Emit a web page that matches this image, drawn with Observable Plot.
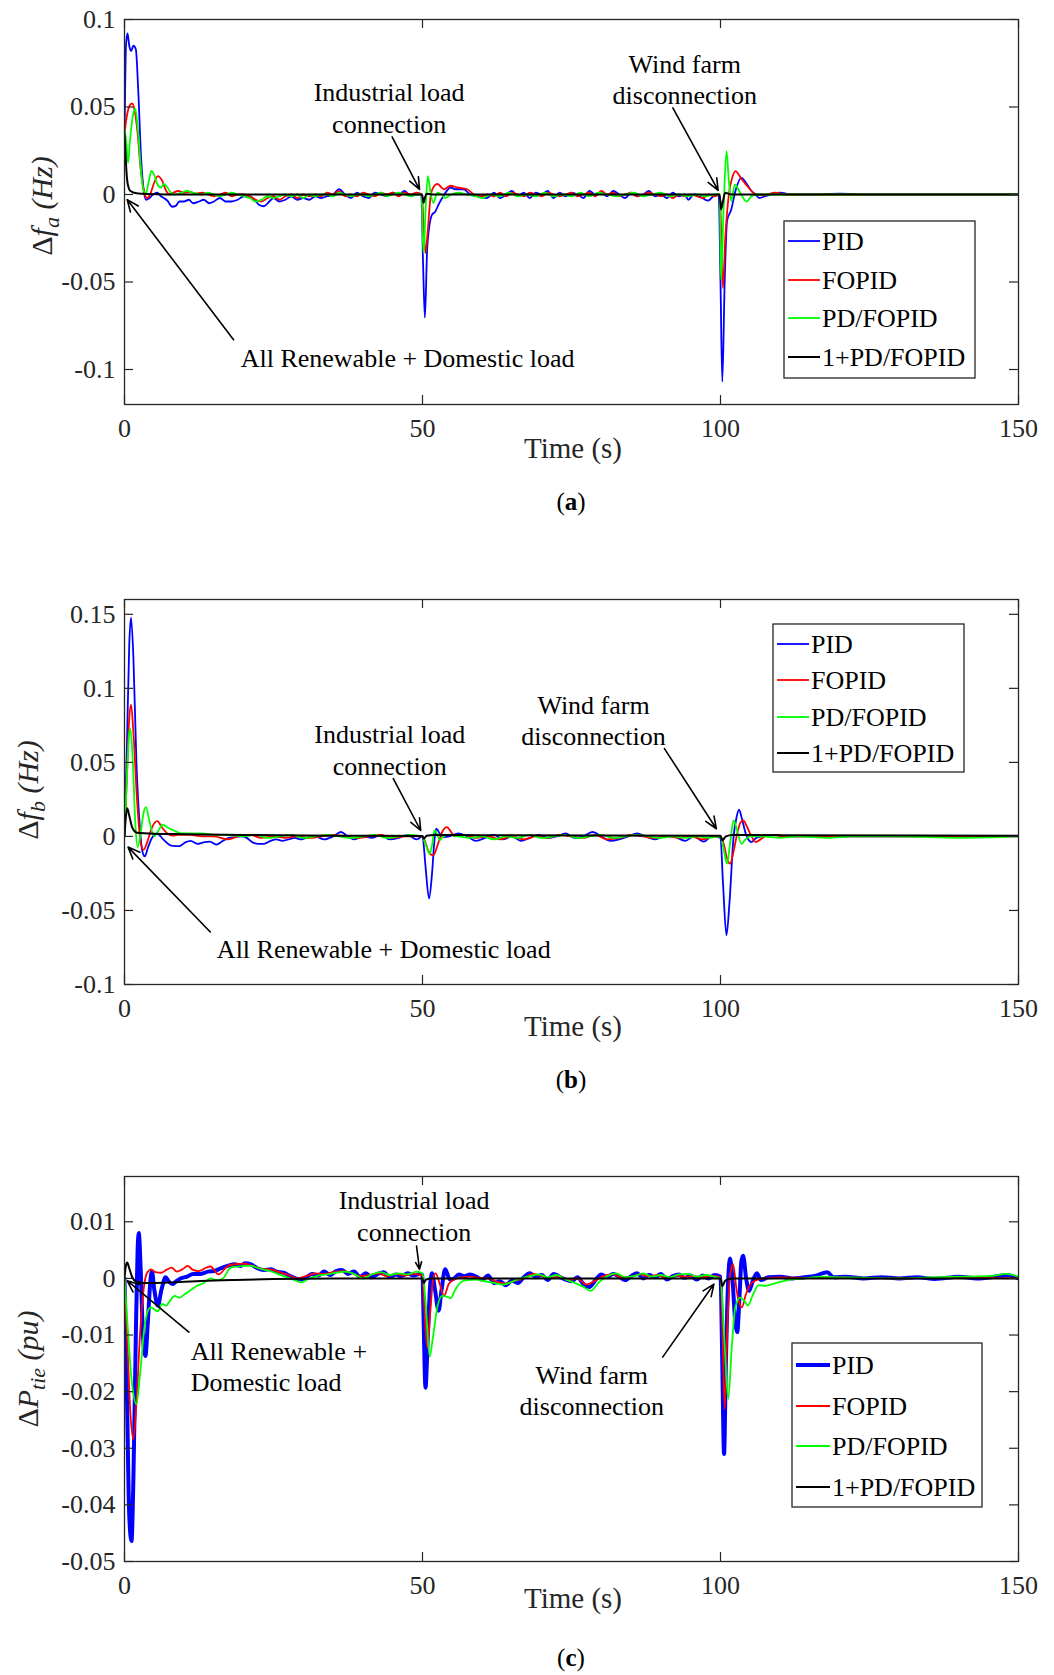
<!DOCTYPE html>
<html><head><meta charset="utf-8">
<script src="https://cdn.jsdelivr.net/npm/d3@7"></script>
<script src="https://cdn.jsdelivr.net/npm/@observablehq/plot@0.6"></script>
<style>
html,body{margin:0;padding:0;background:#fff;}
#root{position:relative;width:1054px;height:1675px;background:#fff;font-family:"Liberation Serif","Times New Roman",serif;overflow:hidden;}
.panel{position:absolute;left:0;}
.cap{position:absolute;left:0;width:1142px;text-align:center;font-size:25px;line-height:28px;color:#000;font-family:"Liberation Serif",serif;}
</style></head>
<body><div id="root"></div>
<script>
// ---------- shared categories ----------
const seriesNames = ["PID", "FOPID", "PD/FOPID", "1+PD/FOPID"];
const seriesColors = ["#0000ff", "#ff0000", "#00ff00", "#000000"];
const xTicks = [0, 50, 100, 150];
const xTickLabels = ["0", "50", "100", "150"];

// ---------- panel (a): Δf_a (Hz) ----------
const yTicksA = [0.1, 0.05, 0, -0.05, -0.1];
const yTickLabelsA = ["0.1", "0.05", "0", "-0.05", "-0.1"];
const pidA = [[0,0.03],[0.25,0.085],[0.5,0.092],[0.8,0.085],[1.1,0.082],[1.5,0.085],[1.9,0.083],[2.3,0.06],[2.8,0.02],[3.2,0.003],[3.6,-0.003],[4.2,-0.002],[4.8,0],[5.5,0.001],[6.1,-0.001],[6.6,-0.002],[7.2,-0.0035],[8.0,-0.007],[8.6,-0.0065],[9.2,-0.004],[10,-0.004],[10.8,-0.003],[11.5,-0.005],[12.5,-0.004],[13.3,-0.003],[14.2,-0.005],[15,-0.004],[16,-0.002],[17,-0.004],[18,-0.004],[19,-0.003],[20,-0.001],[21,-0.001],[21.8,-0.003],[22.6,-0.006],[23.4,-0.0067],[24.3,-0.004],[25,-0.002],[26,-0.004],[27,-0.003],[28,-0.001],[29,-0.003],[30,-0.002],[31,-0.003],[32,-0.001],[33,-0.002],[34,-0.001],[35,0],[36,0.003],[37,0],[38,-0.002],[39,0.001],[40,-0.001],[41,-0.002],[42,0.001],[43,0],[44,-0.001],[45,0.001],[46,0],[47,0.002],[48,-0.001],[49,0],[49.8,0],[50.1,-0.04],[50.4,-0.0704],[50.8,-0.03],[51.6,-0.0115],[52.1,-0.010],[52.8,-0.005],[53.5,-0.001],[54.7,0.004],[55.5,0.003],[56.9,0.003],[58,0],[59,-0.001],[60.8,-0.002],[62,0.001],[63,-0.002],[64,0],[65,0.002],[66,-0.001],[67,0.001],[68,-0.002],[69,0.001],[70,0],[71,0.002],[72,-0.002],[73,0.001],[74,-0.001],[75,0.001],[76,0],[77,-0.002],[78,0.002],[79,0],[80,0.001],[81,-0.001],[82,0.002],[83,0],[84,-0.002],[85,0.001],[86,-0.001],[87,0],[88,0.002],[89,-0.001],[90,0],[91,-0.002],[92,0.001],[93,-0.001],[94,0],[94.6,-0.003],[95.5,0],[96.5,-0.001],[97.9,-0.0035],[98.8,-0.001],[99.7,0],[100,-0.05],[100.3,-0.107],[100.7,-0.05],[101.1,-0.015],[101.8,-0.0086],[102.5,0.002],[103.5,0.0095],[104.4,0.006],[105.2,0.002],[105.9,0],[106.5,-0.002],[107.5,-0.001],[108.5,0],[110,0.001],[112,0],[115,0],[120,0.0005],[125,0],[130,0],[140,0],[150,0]];
const fopidA = [[0,0.035],[0.4,0.045],[0.9,0.051],[1.3,0.052],[1.7,0.048],[2.2,0.035],[2.7,0.015],[3.2,0.003],[3.8,-0.002],[4.3,0],[4.9,0.006],[5.6,0.0105],[6.3,0.008],[7,0.002],[7.6,0],[8.2,0.001],[9,0.002],[10,0.001],[11,0.0015],[12,0.0005],[13,0.001],[14,0],[15,-0.001],[16,0],[17,0.001],[18,-0.001],[19,0],[20,0],[21,-0.001],[22,-0.003],[23,-0.004],[24,-0.002],[25,-0.001],[26,-0.003],[27,-0.001],[28,0],[29,-0.002],[30,0],[31,-0.001],[32,0],[33,-0.001],[34,0.001],[35,0],[36,0.002],[37,-0.001],[38,0],[39,-0.001],[40,0.001],[41,0],[42,-0.001],[43,0.001],[44,0],[45,0.001],[46,-0.001],[47,0.001],[48,0],[49,0.001],[49.9,0],[50.2,-0.02],[50.5,-0.0335],[50.9,-0.02],[51.4,0],[52,0.005],[52.5,0.006],[53.6,0.003],[54.7,0.005],[55.8,0.004],[57.5,0.003],[58.6,0],[60,-0.001],[61,0],[62,-0.001],[63,0.001],[64,-0.001],[65,0.001],[66,0],[67,-0.001],[68,0.001],[69,0],[70,-0.001],[71,0.001],[72,0],[73,-0.001],[74,0],[75,0.001],[76,-0.001],[77,0],[78,0.001],[79,-0.001],[80,0.002],[81,0],[82,0.001],[83,-0.001],[84,0],[85,0.001],[86,-0.001],[87,0],[88,0.001],[89,0],[90,-0.001],[91,0],[92,-0.002],[93,0],[94,-0.001],[95,0],[96,-0.001],[97,-0.002],[98,0],[99,-0.001],[99.9,0],[100.1,-0.02],[100.4,-0.0535],[100.8,-0.025],[101.4,0],[102,0.01],[102.5,0.0134],[103.5,0.009],[104.7,0.004],[105.9,0],[107,-0.0005],[109.2,0.001],[111,0],[150,0]];
const pdfopidA = [[0,0.037],[0.3,0.03],[0.6,0.018],[0.9,0.03],[1.4,0.045],[1.8,0.049],[2.3,0.035],[2.8,0.012],[3.2,0.002],[3.6,0.001],[4.1,0.008],[4.5,0.0135],[5.0,0.011],[5.5,0.006],[6.1,0.004],[6.6,0.006],[7.2,0.004],[7.8,0.001],[8.5,0],[9.5,0.001],[10.5,0.002],[11.5,0.001],[13,0],[14,0.001],[15,0],[16,-0.001],[17,0],[18,0.001],[19,0],[20,-0.001],[21,-0.002],[22,-0.004],[23,-0.003],[24,-0.001],[25,-0.002],[26,-0.001],[27,0],[28,-0.001],[29,0],[30,-0.002],[31,0],[32,-0.001],[33,0],[34,0],[35,-0.001],[36,0.001],[37,0],[38,-0.001],[39,0],[40,0],[41,-0.001],[42,0],[43,0.001],[44,-0.001],[45,0],[46,0.001],[47,0],[48,-0.001],[49,0],[49.9,0],[50.0,-0.02],[50.2,-0.0335],[50.5,-0.01],[50.9,0.0105],[51.3,0.002],[51.8,-0.0048],[52.5,0.001],[53.2,0],[53.8,-0.002],[54.8,0],[56,0.001],[57.5,0],[59,-0.001],[60,-0.002],[61.5,0],[63,-0.001],[64.5,0.001],[66,-0.001],[67.5,0],[69,-0.001],[70.5,0.001],[72,-0.001],[73.5,0],[75,-0.001],[76.5,0.001],[78,-0.001],[79.5,0.001],[81,0],[82.5,-0.001],[84,0],[85.5,0.001],[87,-0.001],[88.5,0],[90,0.001],[91.5,-0.001],[93,0],[94.5,-0.001],[96,0],[97.5,-0.001],[99,0],[99.9,0],[100.0,-0.03],[100.1,-0.0487],[100.5,-0.01],[101,0.0248],[101.4,0.008],[101.8,-0.0038],[102.4,0.0057],[103.3,0.001],[104.4,-0.004],[105.2,-0.001],[106,0],[150,0]];
const onePdA = [[0,0.035],[0.15,0.025],[0.35,0.012],[0.6,0.005],[1,0.002],[2,0.0007],[4,0.0003],[10,0],[49.9,0],[50.1,-0.003],[50.2,-0.0048],[50.4,-0.002],[50.7,0.0005],[51.5,0],[99.8,0],[100.0,-0.005],[100.1,-0.0086],[100.4,-0.004],[100.8,0.001],[101.5,0.0002],[103,0],[150,0]];

// ---------- panel (b): Δf_b (Hz) ----------
const yTicksB = [0.15, 0.1, 0.05, 0, -0.05, -0.1];
const yTickLabelsB = ["0.15", "0.1", "0.05", "0", "-0.05", "-0.1"];
const pidB = [[0,0],[0.4,0.06],[0.8,0.13],[1.1,0.1478],[1.5,0.12],[2.0,0.05],[2.6,0.005],[3.0,-0.01],[3.4,-0.0135],[3.9,-0.008],[4.6,-0.001],[5.5,0.0018],[6.5,-0.002],[7.7,-0.006],[8.5,-0.0065],[9.2,-0.0065],[10.2,-0.004],[11.1,-0.003],[12.2,-0.005],[13.3,-0.004],[14.3,-0.0035],[15.4,-0.0055],[16.5,-0.003],[17.5,-0.001],[18.5,-0.0005],[19.5,0],[20.5,-0.001],[21.5,-0.004],[22.5,-0.005],[23.4,-0.005],[24.5,-0.003],[25.5,-0.002],[26.5,-0.003],[27.5,-0.002],[28.6,-0.001],[29.5,-0.002],[30.5,-0.001],[32,0],[33.5,-0.002],[35,0],[36.3,0.003],[37.5,0],[38.5,-0.002],[40,0],[41.5,-0.001],[43,0.001],[44.5,-0.002],[46,-0.001],[47.5,0.001],[49,-0.002],[50,0],[50.5,-0.02],[51.1,-0.042],[51.6,-0.025],[52.0,-0.003],[52.3,0.0052],[52.9,0.002],[53.5,-0.0004],[54.5,0],[56,0.002],[57.5,0],[59,-0.003],[60.5,-0.001],[62,0.001],[63.5,-0.002],[65,0],[66.5,-0.003],[68,-0.001],[69.5,0.001],[71,-0.001],[72.5,0],[74,0.002],[75.5,-0.001],[77,0],[78.5,0.003],[80,0],[81.5,-0.003],[83,-0.002],[84.5,0],[86,0.002],[87.5,0],[89,-0.002],[90.5,0],[92,0],[94.1,-0.003],[95.5,0],[97.2,-0.0035],[98.5,0],[100,-0.001],[100.4,-0.03],[101,-0.0667],[101.5,-0.045],[102.2,0],[102.7,0.013],[103.1,0.018],[103.6,0.012],[104.3,0.001],[105.2,-0.0038],[106,-0.001],[107,0],[109,0.001],[111,0],[150,0]];
const fopidB = [[0,0],[0.4,0.04],[0.8,0.08],[1.1,0.089],[1.5,0.07],[2.1,0.025],[2.7,-0.004],[3.2,-0.009],[3.8,-0.004],[4.6,0.006],[5.5,0.0103],[6.3,0.006],[7.2,0.002],[8,0.0005],[9,0.001],[11,0.001],[13,0],[15,0],[17.3,-0.002],[19,0],[21,0.001],[23,-0.001],[25,0],[27,-0.001],[29,0],[31,-0.001],[33,0],[35,0.001],[37,0],[39,-0.001],[41,0],[43,0.001],[45,-0.001],[47,0],[49,0],[49.9,0],[50.4,-0.003],[51.0,-0.01],[51.8,-0.0128],[52.6,-0.005],[53.3,0.003],[54.1,0.0063],[54.8,0.003],[55.4,0],[57,0.001],[59,-0.001],[61,0],[63,-0.002],[65,0],[67,-0.002],[69,0],[71,-0.001],[73,0.001],[75,0],[77,-0.001],[79,0.001],[81,-0.002],[83,-0.001],[85,0.001],[87,0],[89,-0.001],[91,0],[93,-0.001],[95,0],[97,-0.002],[99,0],[100,0],[100.6,-0.006],[101.1,-0.015],[101.6,-0.0184],[102.2,-0.01],[102.8,0.002],[103.3,0.009],[103.8,0.0108],[104.4,0.007],[105.2,0],[105.9,-0.0038],[106.7,-0.002],[107.5,0],[109.1,0.001],[110.5,0],[150,0]];
const pdfopidB = [[0,0],[0.4,0.04],[0.8,0.07],[1.0,0.0726],[1.4,0.05],[1.8,0.01],[2.2,-0.0072],[2.7,0.002],[3.2,0.016],[3.6,0.0198],[4.2,0.01],[5.0,0],[5.7,0.004],[6.4,0.0079],[7.2,0.006],[8.3,0.004],[9.5,0.002],[11,0.002],[13,0.002],[15,0.001],[17,0.001],[20,0],[22,0.001],[24,-0.001],[26,0],[28,0.001],[30,-0.001],[32,0],[34,0.001],[36,0],[38,-0.001],[40,0],[42,0.001],[44,-0.001],[46,0],[48,0.001],[49.9,0],[50.5,-0.005],[51.2,-0.0117],[51.6,-0.006],[52,0.004],[52.4,0.002],[52.9,-0.0025],[53.5,0],[54.5,0.001],[56,0],[58,-0.001],[60,0],[62,-0.002],[64,0],[66,-0.001],[68,0.001],[70,-0.001],[72,0],[74,0.001],[76,-0.001],[78,0],[80,0.001],[82,-0.001],[84,0],[86,0.001],[88,0],[90,-0.001],[92,0],[94,-0.001],[96,0],[98,-0.001],[100,0],[100.5,-0.008],[101.1,-0.0184],[101.6,-0.005],[102.2,0.0108],[102.8,0.004],[103.5,-0.005],[104.2,-0.002],[105,0],[107,0],[110,-0.001],[113,0],[118,-0.001],[122,0],[130,0],[140,-0.001],[150,0]];
const onePdB = [[0,0],[0.2,0.012],[0.45,0.019],[0.8,0.014],[1.3,0.006],[2.1,0.0025],[5,0.0018],[10,0.0015],[20,0.001],[35,0.0005],[50,0.0003],[50.2,-0.0016],[50.7,0.0005],[52,0.001],[60,0.0008],[100,0.0005],[100.3,-0.0027],[100.9,0],[102,0.001],[110,0.0008],[150,0.0005]];

// ---------- panel (c): ΔP_tie (pu) ----------
const yTicksC = [0.01, 0, -0.01, -0.02, -0.03, -0.04, -0.05];
const yTickLabelsC = ["0.01", "0", "-0.01", "-0.02", "-0.03", "-0.04", "-0.05"];
const pidC = [[0,0],[0.4,-0.02],[0.8,-0.042],[1.17,-0.0464],[1.5,-0.035],[1.9,-0.01],[2.2,0.005],[2.4,0.008],[2.7,0.002],[3.1,-0.01],[3.5,-0.0137],[3.9,-0.008],[4.3,-0.001],[4.6,0.0013],[5.0,-0.002],[5.6,-0.0048],[6.2,-0.002],[6.9,0.0002],[7.4,-0.0005],[8.0,-0.001],[8.7,-0.0005],[9.4,0],[10.5,0.0003],[11.5,0.0008],[12.8,0.0008],[14,0.0012],[15,0.0013],[16.2,0.0018],[17.3,0.0022],[18.5,0.0025],[19.5,0.0022],[20.2,0.0027],[21.2,0.0025],[22.3,0.0018],[23.4,0.0015],[24.5,0.0016],[25.5,0.0012],[26.7,0.001],[27.8,0.0004],[28.7,0],[29.6,-0.0002],[30.5,0.0002],[31.5,0.0008],[32.5,0.0005],[33.5,0.0012],[34.5,0.0006],[35.5,0.0013],[36.5,0.0015],[37.5,0.0008],[38.5,0.0012],[39.5,0.0003],[40.5,0.0009],[41.5,0.0002],[42.5,0.0008],[43.5,0.0011],[44.5,0.0002],[45.5,0.0007],[46.5,0.0004],[47.5,0.0009],[48.5,0.0005],[49.5,0.0008],[50,0.0006],[50.2,-0.008],[50.5,-0.0193],[50.9,-0.01],[51.3,-0.001],[51.6,0.0009],[52.1,-0.002],[52.7,-0.0057],[53.2,-0.002],[53.8,0.0016],[54.6,-0.0002],[55.3,0],[56.1,0.0007],[57,0.0004],[58,0.0007],[59,0.0003],[60,-0.0002],[61,0.0005],[62,-0.0008],[63,-0.0005],[64,-0.0012],[65,-0.0004],[66,-0.0008],[67,0.0002],[68,0.0009],[69,0.0003],[70,0.0006],[71,-0.0003],[72,0.0008],[73,0.0003],[74,-0.0002],[75,-0.0005],[76,0.0002],[77,-0.001],[78,-0.0015],[79,-0.0003],[80,0.0007],[81,0.0002],[82,0.0008],[83,0.0003],[84,-0.0003],[85,0.0004],[86,0.0009],[87,0],[88,0.0006],[89,0.0002],[90,0.0008],[91,-0.0002],[92,0.0004],[93,0.0007],[94,0.0001],[95,0.0005],[96,-0.0002],[97,0.0005],[98,0],[99,0.0006],[100,0.0003],[100.3,-0.015],[100.6,-0.031],[100.9,-0.015],[101.3,0],[101.6,0.0035],[102.0,0],[102.5,-0.008],[102.8,-0.0095],[103.2,-0.003],[103.5,0.003],[103.8,0.004],[104.3,0],[104.8,-0.0022],[105.4,-0.0005],[106.1,0.0009],[106.8,-0.0003],[108,0.0002],[110,0.0003],[112,0],[114,0.0002],[116,0.0005],[117.9,0.0011],[119,0.0002],[121,0.0003],[124,0],[127,0.0002],[130,0],[133,0.0002],[136,-0.0001],[140,0.0003],[143,0],[146,0.0003],[148,0.0006],[150,0]];
const fopidC = [[0,0],[0.5,-0.012],[1.0,-0.024],[1.5,-0.0284],[2.0,-0.022],[2.6,-0.01],[3.2,-0.002],[3.8,0.001],[4.4,0.0016],[5.2,0.0011],[6.2,0.001],[7.0,0.0015],[7.9,0.0019],[8.8,0.0012],[9.7,0.0016],[10.6,0.0022],[11.5,0.0015],[12.5,0.0013],[13.5,0.0018],[14.4,0.0021],[15.8,0.0007],[17.3,0.0022],[18.5,0.0025],[20.2,0.0026],[21.5,0.0022],[23,0.0017],[24.5,0.0016],[26,0.0011],[27.5,0.0006],[29,0],[30.5,0.0004],[32,0.0009],[33.5,0.0008],[35,0.0011],[36.5,0.0013],[38,0.001],[39.5,0.0004],[41,0.0006],[42.5,0.0009],[44,0.0004],[45.5,0.0008],[47,0.0005],[48.5,0.0008],[50,0.0005],[50.3,-0.005],[50.8,-0.0122],[51.3,-0.006],[51.8,0],[52.2,0.0009],[52.9,-0.001],[53.6,-0.0031],[54.4,-0.001],[55.3,-0.0002],[56.5,0.0002],[58,0.0003],[59.5,0.0001],[61,0],[62.5,-0.0006],[64,-0.0009],[65.5,-0.0004],[67,0],[68.5,0.0008],[70,0.0004],[71.5,0],[73,0.0004],[74.5,-0.0003],[76,0],[77.5,-0.0011],[79,-0.0004],[80.5,0.0005],[82,0.0007],[83.5,0.0002],[85,0.0003],[86.5,0.0007],[88,0.0004],[89.5,0.0006],[91,0],[92.5,0.0005],[94,0.0003],[95.5,0.0004],[97,0.0002],[98.5,0.0005],[100,0.0002],[100.4,-0.012],[100.7,-0.0231],[101.1,-0.01],[101.6,0.0005],[102.1,0.0025],[102.7,-0.002],[103.2,-0.0045],[103.6,-0.0051],[104.2,-0.003],[104.9,-0.0012],[106,-0.0003],[107.5,0],[110,0.0002],[115,0.0001],[120,0.0002],[130,0],[140,0.0002],[150,0]];
const pdfopidC = [[0,0],[0.5,-0.008],[1.2,-0.018],[2.0,-0.0222],[2.6,-0.017],[3.3,-0.009],[4.0,-0.0055],[4.4,-0.0051],[5.0,-0.0055],[5.6,-0.0058],[6.3,-0.0045],[7.0,-0.0048],[7.6,-0.004],[8.4,-0.0031],[9.2,-0.0034],[10.1,-0.0028],[11.2,-0.002],[12.2,-0.0013],[13.3,-0.0008],[14.4,0],[15.5,-0.0003],[16.5,0],[17.8,0.0019],[19,0.0021],[20,0.0022],[21.2,0.0022],[22.5,0.0018],[24,0.0014],[25.5,0.0009],[27,0.0003],[28.5,-0.0003],[29.6,-0.0007],[31,0],[32.5,0.0005],[34,0.0007],[35.5,0.001],[37,0.0012],[38.5,0.0008],[40,0],[41.5,0.0007],[43,0.0011],[44.5,0.0006],[46,0.0009],[47.5,0.0007],[49,0.0012],[50,0.0009],[50.5,-0.004],[51.2,-0.0138],[51.8,-0.01],[52.5,-0.005],[53.3,-0.0031],[54,-0.0032],[54.7,-0.0035],[55.5,-0.002],[56.4,-0.0007],[57.5,-0.0003],[59,-0.0002],[60.5,-0.0005],[62,-0.0008],[63.5,-0.0011],[65,-0.0006],[66.5,0],[68,0.0004],[69.5,0.0007],[71,0.0002],[72.5,0.0006],[74,-0.0002],[75.5,-0.0008],[77,-0.0015],[78.2,-0.0022],[79.5,-0.0008],[81,0.0004],[82.5,0.0009],[84,0.0002],[85.5,0.0004],[87,0.0009],[88.5,0.0003],[90,0.0006],[91.5,0.0002],[93,0.0007],[94.5,0.0008],[96,0.0003],[97.5,0.0006],[99,0.0003],[100,0],[100.6,-0.01],[101.3,-0.0213],[101.9,-0.012],[102.5,-0.005],[103.3,-0.0034],[104,-0.004],[104.6,-0.0048],[105.4,-0.003],[106.4,-0.0012],[107.5,-0.0013],[108.4,-0.0011],[110,-0.0006],[111.7,-0.0002],[114,0],[117,0.0003],[120,0.0002],[125,0.0001],[130,0],[135,0.0002],[140,0.0003],[145,0.0004],[148,0.0008],[150,0.0003]];
const onePdC = [[0,0],[0.2,0.002],[0.45,0.0028],[0.8,0.0018],[1.3,0.0002],[2.0,-0.0006],[3.2,-0.0008],[5,-0.0008],[8,-0.0007],[12,-0.0005],[18,-0.0003],[25,-0.0001],[35,0],[50,0],[50.2,-0.0008],[50.6,-0.0002],[51.5,0],[100,0],[100.3,-0.0014],[100.8,-0.0004],[102,0],[150,0]];

// annotations (data units: time, value)
const notesA = [
  {t: 44.4, v: 0.0500, label: "Industrial load\nconnection", anchor: "middle"},
  {t: 94.0, v: 0.0665, label: "Wind farm\ndisconnection", anchor: "middle"},
  {t: 47.5, v: -0.0930, label: "All Renewable + Domestic load", anchor: "middle"}
];
const arrowsA = [
  {t1: 44.9, v1: 0.0329, t2: 49.5, v2: 0.0029},
  {t1: 92.0, v1: 0.0495, t2: 99.6, v2: 0.0023},
  {t1: 18.3, v1: -0.0830, t2: 0.45, v2: -0.0029}
];
const notesB = [
  {t: 44.5, v: 0.0590, label: "Industrial load\nconnection", anchor: "middle"},
  {t: 78.7, v: 0.0792, label: "Wind farm\ndisconnection", anchor: "middle"},
  {t: 43.5, v: -0.0755, label: "All Renewable + Domestic load", anchor: "middle"}
];
const arrowsB = [
  {t1: 45.1, v1: 0.0390, t2: 49.7, v2: 0.0040},
  {t1: 90.6, v1: 0.0593, t2: 99.3, v2: 0.0052},
  {t1: 14.4, v1: -0.0645, t2: 0.6, v2: -0.0072}
];
const notesC = [
  {t: 48.6, v: 0.0112, label: "Industrial load\nconnection", anchor: "middle"},
  {t: 78.4, v: -0.0196, label: "Wind farm\ndisconnection", anchor: "middle"},
  {t: 11.1, v: -0.0154, label: "All Renewable +\nDomestic load", anchor: "start"}
];
const arrowsC = [
  {t1: 49.0, v1: 0.0057, t2: 49.5, v2: 0.0016},
  {t1: 90.3, v1: -0.0139, t2: 98.9, v2: -0.0010},
  {t1: 10.8, v1: -0.0095, t2: 0.45, v2: -0.0004}
];

// ---------- drawing ----------
const W = 1054, H = 470, mL = 124, mR = 36, mT = 19, mB = 66;
const frameColor = "#262626";
const toRows = (pairs, name) => pairs.map(([t, v]) => ({t, v, name}));

function panel(cfg) {
  const xDomain = [0, 150];
  const fw = W - mL - mR, fh = H - mT - mB;
  const tx = (xDomain[1] - xDomain[0]) * 9 / fw;
  const ty = (cfg.yDomain[1] - cfg.yDomain[0]) * 9 / fh;
  const marks = [];
  cfg.series.forEach((pairs, i) => {
    marks.push(Plot.line(toRows(pairs, seriesNames[i]), {
      x: "t", y: "v", stroke: seriesColors[i], strokeWidth: cfg.widths[i],
      curve: "monotone-x", clip: true
    }));
  });
  marks.push(
    Plot.ruleX(xTicks, {x: d => d, y1: cfg.yDomain[0], y2: cfg.yDomain[0] + ty, stroke: frameColor, strokeWidth: 1.2}),
    Plot.ruleX(xTicks, {x: d => d, y1: cfg.yDomain[1] - ty, y2: cfg.yDomain[1], stroke: frameColor, strokeWidth: 1.2}),
    Plot.ruleY(cfg.yTicks, {y: d => d, x1: xDomain[0], x2: xDomain[0] + tx, stroke: frameColor, strokeWidth: 1.2}),
    Plot.ruleY(cfg.yTicks, {y: d => d, x1: xDomain[1] - tx, x2: xDomain[1], stroke: frameColor, strokeWidth: 1.2}),
    Plot.frame({stroke: frameColor, strokeWidth: 1.3}),
    Plot.axisX({ticks: xTicks, tickSize: 0, tickPadding: 14, tickFormat: d => xTickLabels[xTicks.indexOf(d)], label: null, fill: "#262626"}),
    Plot.axisY({ticks: cfg.yTicks, tickSize: 0, tickPadding: 9, tickFormat: d => cfg.yTickLabels[cfg.yTicks.indexOf(d)], label: null, fill: "#262626"}),
    Plot.arrow(cfg.arrows, {x1: "t1", y1: "v1", x2: "t2", y2: "v2", stroke: "#000", strokeWidth: 1.6, headLength: 12, headAngle: 45}),
    Plot.text(cfg.notes.filter(d => d.anchor === "middle"), {x: "t", y: "v", text: "label", textAnchor: "middle", lineHeight: 1.2, fontSize: 26, fill: "#000"}),
    Plot.text(cfg.notes.filter(d => d.anchor === "start"), {x: "t", y: "v", text: "label", textAnchor: "start", lineHeight: 1.2, fontSize: 26, fill: "#000"})
  );
  const svg = Plot.plot({
    width: W, height: H, marginLeft: mL, marginRight: mR, marginTop: mT, marginBottom: mB,
    x: {domain: xDomain},
    y: {domain: cfg.yDomain},
    style: {fontFamily: '"Liberation Serif", "Times New Roman", serif', fontSize: "26px", background: "transparent", overflow: "visible", color: "#262626"},
    marks
  });
  const s = d3.select(svg);
  // x-axis title
  s.append("text").attr("x", 573).attr("y", cfg.timeY + 9).attr("text-anchor", "middle")
    .attr("font-size", 29).attr("fill", "#262626").text("Time (s)");
  // y-axis title with subscript
  const yl = s.append("text").attr("transform", `translate(${cfg.ylabelX},${cfg.ylabelY}) rotate(-90)`)
    .attr("text-anchor", "middle").attr("font-size", 30).attr("fill", "#262626");
  yl.append("tspan").text("Δ");
  yl.append("tspan").attr("font-style", "italic").text(cfg.ylabel[0]);
  yl.append("tspan").attr("font-style", "italic").attr("font-size", 22).attr("dy", 7).text(cfg.ylabel[1]);
  yl.append("tspan").attr("font-style", "italic").attr("dy", -7).text(" " + cfg.ylabel[2]);
  // legend
  const L = cfg.legend;
  const g = s.append("g");
  g.append("rect").attr("x", L.x).attr("y", L.y).attr("width", L.w).attr("height", L.h)
    .attr("fill", "#fff").attr("stroke", frameColor).attr("stroke-width", 1.3);
  seriesNames.forEach((name, i) => {
    g.append("line").attr("x1", L.lx).attr("x2", L.lx + L.ll).attr("y1", L.rows[i]).attr("y2", L.rows[i])
      .attr("stroke", seriesColors[i]).attr("stroke-width", cfg.legendWidths[i]);
    g.append("text").attr("x", L.lx + L.ll + 2).attr("y", L.rows[i]).attr("dominant-baseline", "central")
      .attr("text-anchor", "start").attr("font-size", 26).attr("fill", "#000").text(name);
  });
  const wrap = document.createElement("div");
  wrap.className = "panel";
  wrap.style.top = cfg.top + "px";
  wrap.appendChild(svg);
  document.getElementById("root").appendChild(wrap);
  const cap = document.createElement("div");
  cap.className = "cap";
  cap.style.top = (cfg.capY - 14) + "px";
  cap.innerHTML = `(<b>${cfg.cap}</b>)`;
  document.getElementById("root").appendChild(cap);
}

panel({
  top: 0, yDomain: [-0.12, 0.1], yTicks: yTicksA, yTickLabels: yTickLabelsA,
  series: [pidA, fopidA, pdfopidA, onePdA], widths: [1.8, 1.8, 1.8, 2],
  notes: notesA, arrows: arrowsA, timeY: 449, ylabelX: 52, ylabelY: 206, ylabel: ["f", "a", "(Hz)"],
  legend: {x: 784, y: 221, w: 191, h: 157, lx: 788, ll: 32, rows: [241, 280, 318, 357]},
  legendWidths: [1.8, 1.8, 1.8, 2], capY: 502, cap: "a"
});
panel({
  top: 580, yDomain: [-0.1, 0.16], yTicks: yTicksB, yTickLabels: yTickLabelsB,
  series: [pidB, fopidB, pdfopidB, onePdB], widths: [1.8, 1.8, 1.8, 2],
  notes: notesB, arrows: arrowsB, timeY: 447, ylabelX: 38, ylabelY: 210, ylabel: ["f", "b", "(Hz)"],
  legend: {x: 773, y: 44, w: 191, h: 148, lx: 777, ll: 32, rows: [64, 100, 137, 173]},
  legendWidths: [1.8, 1.8, 1.8, 2], capY: 1080, cap: "b"
});
panel({
  top: 1157, yDomain: [-0.05, 0.018], yTicks: yTicksC, yTickLabels: yTickLabelsC,
  series: [pidC, fopidC, pdfopidC, onePdC], widths: [4, 1.8, 1.8, 2],
  notes: notesC, arrows: arrowsC, timeY: 442, ylabelX: 38, ylabelY: 212, ylabel: ["P", "tie", "(pu)"],
  legend: {x: 792, y: 186, w: 190, h: 164, lx: 796, ll: 34, rows: [208, 249, 289, 330]},
  legendWidths: [4, 1.8, 1.8, 2], capY: 1658, cap: "c"
});
</script>
</body></html>
